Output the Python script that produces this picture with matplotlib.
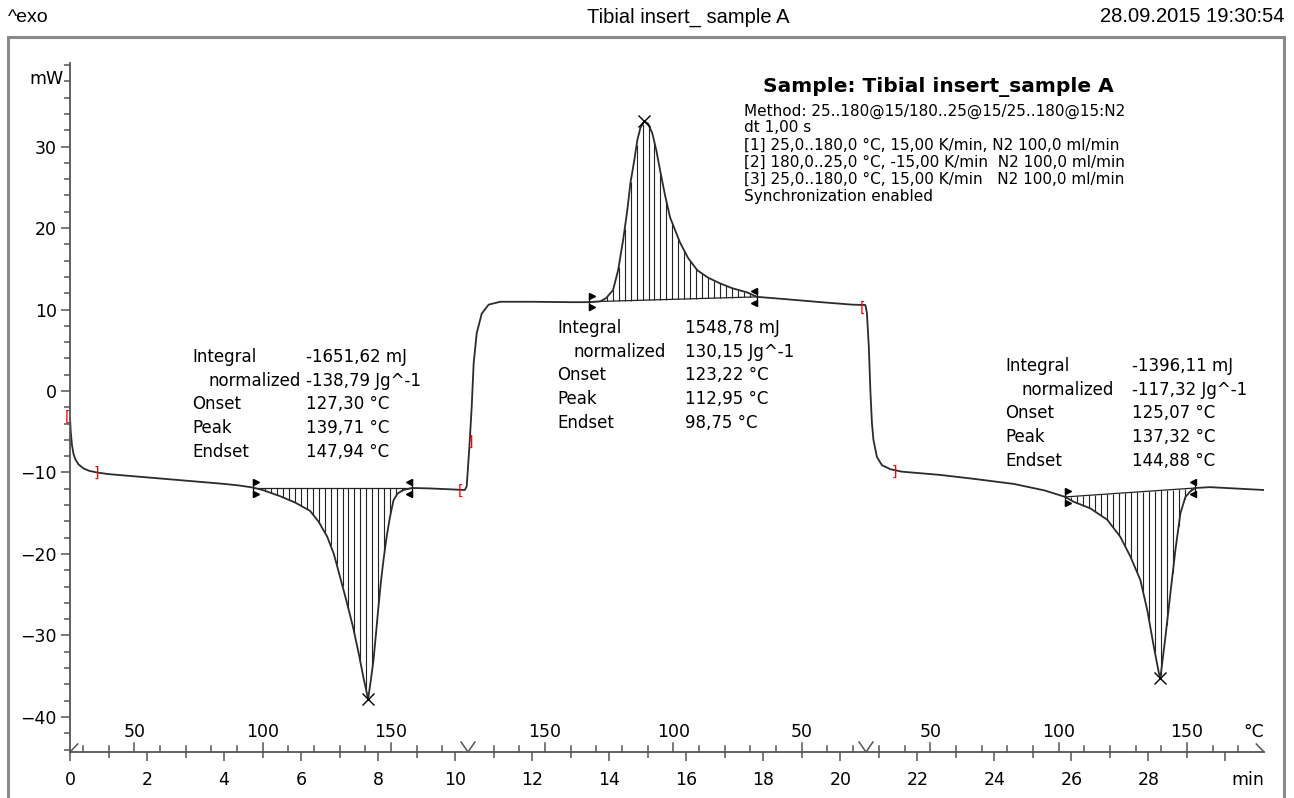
import numpy as np
import matplotlib
matplotlib.use("Agg")
import matplotlib.pyplot as plt
from matplotlib.patches import Rectangle
from matplotlib.transforms import blended_transform_factory

# ---------------- data ----------------
time_min = [0.00, 0.02, 0.05, 0.09, 0.14, 0.22, 0.35, 0.50, 0.70, 1.00, 1.50, 2.00, 2.50,
            3.00, 3.50, 4.00, 4.40, 4.75, 5.00, 5.45, 5.85, 6.23, 6.45, 6.68, 6.85, 7.01,
            7.18, 7.35, 7.50, 7.62, 7.74, 7.81, 7.88, 7.94, 8.00, 8.07, 8.14, 8.22, 8.31,
            8.40, 8.50, 8.65, 8.88, 9.30, 9.80, 10.25, 10.30, 10.37, 10.43, 10.48, 10.56,
            10.69, 10.87, 11.17, 12.00, 13.00, 13.47, 13.77, 13.92, 14.10, 14.23, 14.36,
            14.47, 14.55, 14.65, 14.73, 14.81, 14.91, 15.01, 15.12, 15.22, 15.32, 15.45,
            15.58, 15.84, 16.05, 16.29, 16.57, 16.88, 17.20, 17.58, 17.84, 18.50, 19.50,
            20.30, 20.65, 20.69, 20.74, 20.78, 20.82, 20.86, 20.95, 21.08, 21.30, 21.60,
            22.60, 23.50, 24.50, 25.30, 25.84, 26.06, 26.49, 26.93, 27.27, 27.53, 27.79,
            27.97, 28.14, 28.27, 28.31, 28.44, 28.57, 28.70, 28.83, 28.96, 29.09, 29.22,
            29.60, 30.20, 31.00]
heat_flow_mw = [-3.3, -5.0, -6.6, -7.7, -8.4, -9.0, -9.5, -9.8, -10.0, -10.2, -10.4, -10.6, -10.8,
                -11.0, -11.2, -11.4, -11.6, -11.85, -12.15, -12.9, -13.7, -14.7, -16.0, -17.9, -20.0, -22.8,
                -25.8, -29.0, -32.3, -35.2, -37.8, -35.5, -33.0, -30.0, -26.9, -23.5, -20.7, -17.9, -15.4,
                -13.4, -12.6, -12.15, -11.9, -11.95, -12.05, -12.15, -11.7, -6.8, -1.9, 3.4, 7.1,
                9.5, 10.6, 10.95, 10.95, 10.9, 10.9, 11.0, 11.4, 12.4, 14.8, 18.5,
                22.2, 25.5, 28.3, 30.8, 32.3, 33.1, 32.8, 31.6, 29.6, 27.1, 24.0,
                21.3, 18.2, 16.3, 14.8, 13.9, 13.2, 12.6, 12.1, 11.55, 11.3, 10.9,
                10.6, 10.55, 9.6, 5.4, 0.1, -3.9, -6.0, -8.1, -9.1, -9.6, -9.9,
                -10.3, -10.8, -11.4, -12.2, -13.0, -13.6, -14.4, -15.8, -17.9, -20.3, -23.2,
                -26.9, -31.4, -34.6, -35.2, -30.2, -24.8, -19.5, -15.0, -13.0, -12.3, -11.9,
                -11.8, -11.95, -12.15]

# integration limits (start/end time and baseline value)
base_t0 = [4.75, 13.47, 25.84]
base_t1 = [8.88, 17.84, 29.22]
base_y0 = [-11.9, 10.95, -13.0]
base_y1 = [-11.9, 11.55, -11.9]
peak_t = [7.74, 14.91, 28.31]
peak_y = [-37.8, 33.1, -35.2]

# red range brackets
bracket_t = [-0.06, 0.68, 10.15, 10.40, 20.58, 21.40]
bracket_y = [-3.2, -10.1, -12.3, -6.2, 10.2, -9.9]
bracket_s = ["[", "]", "[", "]", "[", "]"]

res_labels = ["Integral", "normalized", "Onset", "Peak", "Endset"]
res_values = [
    ["-1651,62 mJ", "-138,79 Jg^-1", "127,30 °C", "139,71 °C", "147,94 °C"],
    ["1548,78 mJ", "130,15 Jg^-1", "123,22 °C", "112,95 °C", "98,75 °C"],
    ["-1396,11 mJ", "-117,32 Jg^-1", "125,07 °C", "137,32 °C", "144,88 °C"],
]

# temperature program: segment start time, start/end temperature, rate (K/min)
seg_start = [0.0, 155 / 15, 310 / 15]
seg_T0 = [25, 180, 25]
seg_T1 = [180, 25, 180]
rate = 15.0

method_lines = ["Method: 25..180@15/180..25@15/25..180@15:N2",
                "dt 1,00 s",
                "[1] 25,0..180,0 °C, 15,00 K/min, N2 100,0 ml/min",
                "[2] 180,0..25,0 °C, -15,00 K/min  N2 100,0 ml/min",
                "[3] 25,0..180,0 °C, 15,00 K/min   N2 100,0 ml/min",
                "Synchronization enabled"]

# ---------------- figure ----------------
W, H = 1294, 798
plt.rcParams['font.family'] = ['DejaVu Sans']
fig = plt.figure(figsize=(W / 100, H / 100), dpi=100)
fig.patch.set_facecolor('white')


def fx(px):
    return px / W


def fy(py):
    return 1 - py / H


ax_left, ax_right, ax_top, ax_bot = 70, 1264, 63, 752
ax = fig.add_axes([fx(ax_left), fy(ax_bot), (ax_right - ax_left) / W, (ax_bot - ax_top) / H])
ax.set_xlim(0, 31.0)
ax.set_ylim(-44.3, 40.25)
ax.set_facecolor('none')
for s in ['top', 'right']:
    ax.spines[s].set_visible(False)
axis_col = '#555555'
for s in ['left', 'bottom']:
    ax.spines[s].set_color(axis_col)
    ax.spines[s].set_linewidth(1.3)

# outer frame
fig.add_artist(Rectangle((fx(8), -0.05), (1284 - 8) / W, fy(37) + 0.05,
                         transform=fig.transFigure, fill=False, edgecolor='#8a8a8a', lw=2.2))

# header
fig.text(fx(8), fy(17), "^exo", family='Liberation Sans', fontsize=14, ha='left', va='center')
fig.text(fx(688), fy(17), "Tibial insert_ sample A", family='Liberation Sans', fontsize=14.5,
         ha='center', va='center')
fig.text(fx(1284), fy(17), "28.09.2015 19:30:54", family='Liberation Sans', fontsize=14.5,
         ha='right', va='center')

# y axis ticks
ax.set_yticks(np.arange(-40, 31, 10))
ax.set_yticks(np.arange(-44, 41, 2), minor=True)
ax.tick_params(axis='y', which='major', direction='out', length=6.5, width=1.1, color=axis_col,
               labelsize=12.5, pad=3)
ax.tick_params(axis='y', which='minor', direction='out', length=4.2, width=1.1, color=axis_col)
ax.text(-0.18, 38.3, "mW", ha='right', va='center', fontsize=12.5)

# time axis ticks
xt = np.arange(0, 31, 2)
ax.set_xticks(xt)
ax.set_xticklabels([str(v) if v < 30 else "" for v in xt])
ax.set_xticks(np.arange(0, 31, 1), minor=True)
ax.tick_params(axis='x', which='major', direction='out', length=6.5, width=1.1, color=axis_col,
               labelsize=12.5, pad=7)
ax.tick_params(axis='x', which='minor', direction='out', length=4.2, width=1.1, color=axis_col)
bt = blended_transform_factory(ax.transData, ax.transAxes)
axh = ax_bot - ax_top
ax.text(31.0, -28 / axh, "min", transform=bt, ha='right', va='center', fontsize=12.5)

# temperature axis (drawn upward from the time axis)
for st, T0, T1 in zip(seg_start, seg_T0, seg_T1):
    lo, hi = min(T0, T1), max(T0, T1)
    for T in range(int(np.ceil(lo / 10) * 10), hi + 1, 10):
        if T == T0 or T == T1:
            continue
        t = st + abs(T - T0) / rate
        major = (T % 50 == 0)
        L = (9.5 if major else 6.0) / axh
        ax.plot([t, t], [0, L], transform=bt, color=axis_col, lw=1.1, clip_on=False)
        if major:
            ax.text(t, 20 / axh, str(T), transform=bt, ha='center', va='center', fontsize=12.5)
ax.text(31.0, 20 / axh, "°C", transform=bt, ha='right', va='center', fontsize=12.5)
vh = 10 / axh
for st in seg_start[1:]:
    ax.plot([st - 0.18, st, st + 0.18], [vh, 0, vh], transform=bt, color=axis_col, lw=1.1,
            clip_on=False)
ax.plot([0, 0.2], [0, vh * 0.8], transform=bt, color=axis_col, lw=1.1, clip_on=False)
ax.plot([31.0 - 0.2, 31.0], [vh * 0.8, 0], transform=bt, color=axis_col, lw=1.1, clip_on=False)

# hatching between baseline and curve
tt = np.array(time_min)
yy = np.array(heat_flow_mw)
for t0, t1, y0, y1 in zip(base_t0, base_t1, base_y0, base_y1):
    hx = np.arange(t0 + 0.155, t1, 0.155)
    hb = y0 + (y1 - y0) * (hx - t0) / (t1 - t0)
    hc = np.interp(hx, tt, yy)
    ax.vlines(hx, hb, hc, color='#222222', lw=0.8)
    ax.plot([t0, t1], [y0, y1], color='#222222', lw=0.9)
    for t, y, m in [(t0, y0, '>'), (t1, y1, '<')]:
        ax.plot([t, t], [y - 0.95, y + 0.95], color='black', lw=0.9)
        off = 0.07 if m == '>' else -0.07
        ax.plot([t + off, t + off], [y + 0.7, y - 0.7], ls='none', marker=m, ms=4.5, color='black')

# main curve
ax.plot(tt, yy, color='#2b2b2b', lw=1.3)

# peak marks
ax.plot(peak_t, peak_y, ls='none', marker='x', ms=9, mew=1.0, color='black')

# red brackets
for t, y, s in zip(bracket_t, bracket_y, bracket_s):
    ax.text(t, y, s, color='red', fontsize=10, ha='center', va='center')


# result blocks (pixel anchors converted to data)
def dx(px):
    return (px - ax_left) / 38.516


def dy(py):
    return (391 - py) / 8.15


blocks = [(192, 306, 357), (557, 685, 328), (1005, 1132, 366)]
for (lx, vx, y0), vals in zip(blocks, res_values):
    for i, (lab, val) in enumerate(zip(res_labels, vals)):
        py = y0 + i * 23.7
        x_lab = lx + (16 if i == 1 else 0)
        ax.text(dx(x_lab), dy(py), lab, ha='left', va='center', fontsize=12)
        ax.text(dx(vx), dy(py), val, ha='left', va='center', fontsize=12)

# sample info
fig.text(fx(763), fy(87), "Sample: Tibial insert_sample A", fontsize=14.5, fontweight='bold',
         ha='left', va='center')
for i, line in enumerate(method_lines):
    fig.text(fx(744), fy(111 + i * 17), line, fontsize=11, ha='left', va='center')

fig.savefig("out.png", dpi=100)
